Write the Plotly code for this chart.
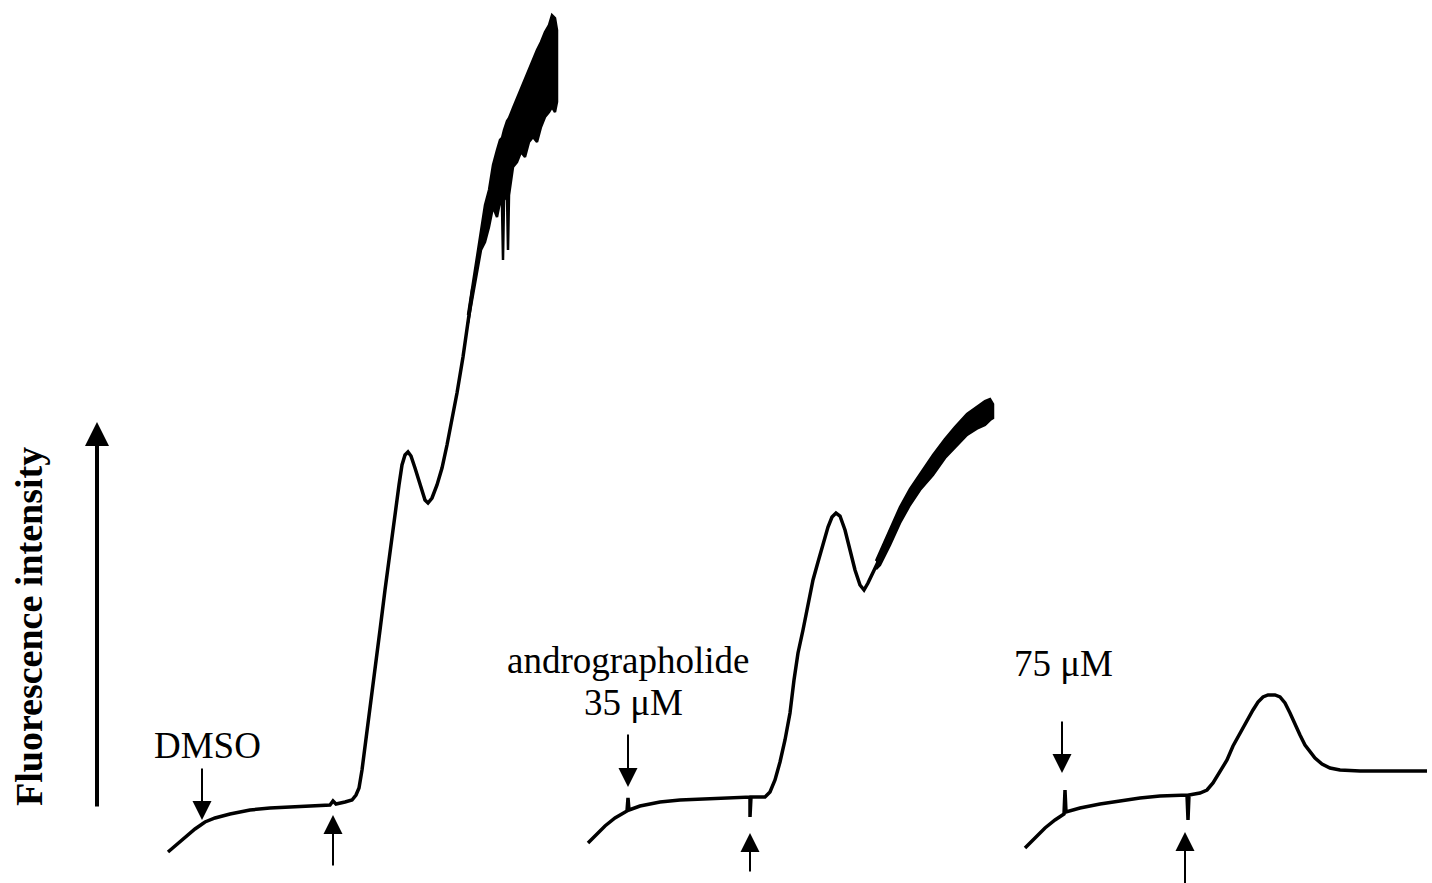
import plotly.graph_objects as go

# ---------------- data (time in arbitrary units, fluorescence in a.u.) ----------------
# DMSO trace
dmso_t = [168, 175, 185, 195, 205, 215, 230, 250, 270, 290, 310, 330, 333, 336, 345, 352, 356, 359,
          362, 366, 370, 375, 380, 385, 390, 395, 399, 402, 405, 408, 411, 415, 420, 425, 428, 432,
          437, 442, 447, 452, 457, 463, 468, 473]
dmso_f = [31, 37, 46, 54, 61, 65, 69, 73, 75, 76, 77, 78, 82, 79, 81, 83, 88, 95,
          113, 143, 173, 213, 253, 293, 333, 373, 398, 418, 428, 431, 427, 415, 398, 383, 380, 385,
          398, 415, 438, 463, 490, 526, 563, 596]
# noisy part of the DMSO trace: upper / lower envelope
dmso_noise_t = [468, 473, 477, 481, 485, 489, 493, 497, 500, 502, 503, 504, 507, 508, 509, 513, 517,
                521, 525, 529, 533, 537, 541, 545, 549, 552, 555, 557]
dmso_noise_hi = [568, 600, 628, 655, 678, 693, 718, 733, 743, 745, 751, 753, 762, 763, 765, 775, 785,
                 795, 805, 813, 825, 833, 841, 851, 858, 868, 865, 853]
dmso_noise_lo = [560, 589, 611, 633, 641, 656, 676, 666, 681, 678, 623, 683, 688, 633, 688, 716, 721,
                 731, 726, 741, 746, 741, 756, 766, 771, 776, 771, 781]

# andrographolide 35 uM trace
a35_t = [588, 595, 605, 615, 627, 628, 629, 640, 660, 680, 700, 720, 740, 750, 750, 751, 765, 770,
         775, 780, 785, 790, 794, 798, 803, 808, 813, 818, 823, 828, 832, 836, 840, 845, 850, 855,
         860, 864, 868, 873, 878, 881]
a35_f = [40, 47, 57, 65, 72, 85, 73, 77, 81, 83, 84, 85, 86, 86, 66, 86, 86, 91,
         103, 121, 143, 170, 203, 230, 253, 278, 303, 321, 338, 356, 366, 370, 367, 353, 333, 313,
         298, 293, 300, 311, 321, 324]
a35_noise_t = [876, 880, 890, 900, 910, 920, 933, 945, 955, 967, 978, 985, 990, 993]
a35_noise_hi = [322, 331, 354, 376, 394, 409, 428, 444, 456, 469, 477, 482, 484, 479]
a35_noise_lo = [314, 318, 338, 360, 378, 393, 408, 425, 435, 448, 455, 458, 463, 465]

# andrographolide 75 uM trace
a75_t = [1025, 1035, 1045, 1055, 1064, 1065, 1066, 1080, 1100, 1120, 1140, 1160, 1187, 1188, 1189,
         1200, 1207, 1213, 1220, 1227, 1233, 1240, 1247, 1253, 1258, 1263, 1268, 1275, 1280, 1285,
         1290, 1295, 1300, 1305, 1310, 1315, 1322, 1330, 1340, 1360, 1400, 1427]
a75_f = [35, 45, 55, 63, 69, 93, 71, 75, 79, 82, 85, 87, 88, 63, 88,
         90, 93, 100, 111, 123, 137, 150, 163, 173, 181, 186, 188, 188, 186, 180,
         170, 158, 148, 138, 131, 125, 119, 115, 113, 112, 112, 112]

# additions: (time, arrow tail level, arrow tip level)
compound_add_t = [202, 628, 1062]
compound_tail = [116, 150, 163]
compound_tip = [63, 96, 110]
stim_add_t = [333, 750, 1185]
stim_tail = [16, 10, -2]
stim_tip = [68, 50, 51]

labels = ["DMSO", "andrographolide", "35 μM", "75 μM"]
label_t = [207, 628, 633, 1063]
label_f = [138, 223, 181, 220]

ylabel = "Fluorescence intensity"

# ---------------- figure ----------------
fig = go.Figure()
line = dict(color="black", width=3.5)

for t, f in [(dmso_t, dmso_f), (a35_t, a35_f), (a75_t, a75_f)]:
    fig.add_trace(go.Scatter(x=t, y=f, mode="lines", line=line, hoverinfo="skip", showlegend=False))

for t, hi, lo in [(dmso_noise_t, dmso_noise_hi, dmso_noise_lo),
                  (a35_noise_t, a35_noise_hi, a35_noise_lo)]:
    fig.add_trace(go.Scatter(x=t + t[::-1], y=hi + lo[::-1], mode="lines", fill="toself",
                             fillcolor="black", line=dict(color="black", width=2.5),
                             hoverinfo="skip", showlegend=False))

ann = []
for t, a, b in zip(compound_add_t, compound_tail, compound_tip):
    ann.append(dict(x=t, y=b, ax=t, ay=a, axref="x", ayref="y", xref="x", yref="y", text="",
                    showarrow=True, arrowhead=2, arrowsize=1.9, arrowwidth=2, arrowcolor="black"))
for t, a, b in zip(stim_add_t, stim_tail, stim_tip):
    ann.append(dict(x=t, y=b, ax=t, ay=a, axref="x", ayref="y", xref="x", yref="y", text="",
                    showarrow=True, arrowhead=2, arrowsize=1.9, arrowwidth=2, arrowcolor="black"))
# big intensity arrow
ann.append(dict(x=97, y=461, ax=97, ay=75, axref="x", ayref="y", xref="x", yref="y", text="",
                showarrow=True, arrowhead=2, arrowsize=1.2, arrowwidth=4, arrowcolor="black"))

for txt, t, f in zip(labels, label_t, label_f):
    ann.append(dict(x=t, y=f, xref="x", yref="y", text=txt, showarrow=False,
                    xanchor="center", yanchor="middle",
                    font=dict(family="Liberation Serif", size=37, color="black")))
ann.append(dict(x=29, y=256, xref="x", yref="y", text="<b>" + ylabel + "</b>", showarrow=False,
                textangle=-90, xanchor="center", yanchor="middle",
                font=dict(family="Liberation Serif", size=38, color="black")))

fig.update_layout(
    width=1432, height=883, margin=dict(l=0, r=0, t=0, b=0),
    paper_bgcolor="white", plot_bgcolor="white",
    xaxis=dict(range=[0, 1432], visible=False, fixedrange=True),
    yaxis=dict(range=[0, 883], visible=False, fixedrange=True),
    annotations=ann, showlegend=False,
)

fig.write_html("out.html", config={"displayModeBar": False})
